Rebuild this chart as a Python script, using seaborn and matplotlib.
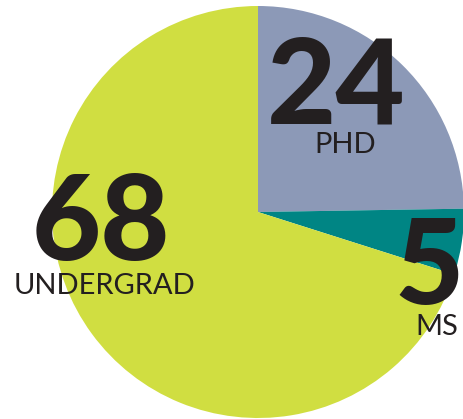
import matplotlib
matplotlib.use("Agg")
import matplotlib.pyplot as plt
import seaborn as sns

categories = ["PHD", "MS", "UNDERGRAD"]
values = [24, 5, 68]
colors = ["#8C99B7", "#008584", "#D0DE41"]

sns.set_theme(style="white")
plt.rcParams['font.family'] = ['Lato', 'DejaVu Sans']

W, H = 463, 419
fig = plt.figure(figsize=(W / 100, H / 100), dpi=100)
ax = fig.add_axes([0, 0, 1, 1])
ax.pie(values, colors=colors, startangle=90, counterclock=False,
       center=(258, H - 212), radius=206, wedgeprops=dict(linewidth=0),
       frame=True)
ax.set_xlim(0, W)
ax.set_ylim(0, H)
ax.set_aspect('equal')
ax.axis('off')

txt = "#231F20"
num_kw = dict(color=txt, fontsize=86, fontweight='black', ha='center', va='baseline')
lab_kw = dict(color=txt, fontsize=21, fontweight='normal', ha='center', va='baseline')

def put(x, y, s, kw):
    ax.text(x, H - y, s, **kw)

# PHD
put(336, 123, str(values[0]), num_kw)
put(345, 153, categories[0], lab_kw)
# MS
put(429, 304, str(values[1]), num_kw)
put(437, 335, categories[1], lab_kw)
# UNDERGRAD
put(101, 260, str(values[2]), num_kw)
put(104, 294, categories[2], lab_kw)

fig.savefig("out.png", dpi=100)
